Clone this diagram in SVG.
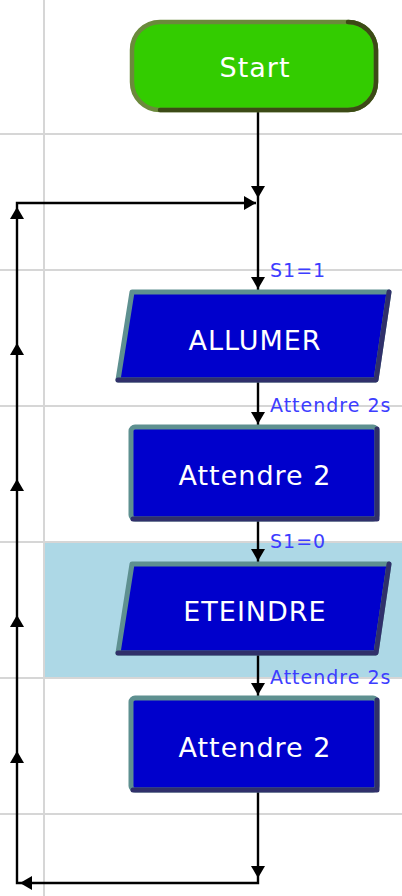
<svg xmlns="http://www.w3.org/2000/svg" xmlns:xlink="http://www.w3.org/1999/xlink" width="402" height="896" viewBox="0 0 402 896">
<style>
.grid{stroke:#d6d6d6;stroke-width:2;fill:none}
.wire{stroke:#000;stroke-width:2.4;fill:none}
.ah{fill:#000}
.blue{fill:#0000cc;stroke:#5e9090;stroke-width:5;stroke-linejoin:round}
.shade{fill:none;stroke:#30306a;stroke-width:5;stroke-linecap:round;stroke-linejoin:round}
.ntext{font-family:"DejaVu Sans","Liberation Sans",sans-serif;font-size:27px;fill:#fff;text-anchor:middle;letter-spacing:1px}
.lbl{font-family:"DejaVu Sans","Liberation Sans",sans-serif;font-size:19px;fill:#3d3dff;letter-spacing:1px}
</style>
<defs>
<path id="down" d="M-7,-12 L7,-12 L0,0 Z"/>
</defs>
<rect width="402" height="896" fill="#fff"/>
<rect x="45" y="543" width="357" height="135" fill="#add8e6"/>
<g id="grid" class="grid">
<line x1="44" y1="0" x2="44" y2="896"/>
<line x1="0" y1="134" x2="402" y2="134"/>
<line x1="0" y1="270" x2="402" y2="270"/>
<line x1="0" y1="406" x2="402" y2="406"/>
<line x1="0" y1="542" x2="402" y2="542"/>
<line x1="0" y1="678" x2="402" y2="678"/>
<line x1="0" y1="814" x2="402" y2="814"/>
</g>
<g id="connectors">
<path class="wire" d="M258,112 V290"/>
<path class="wire" d="M258,382 V425"/>
<path class="wire" d="M258,520 V562"/>
<path class="wire" d="M258,655 V696"/>
<path class="wire" d="M258,792 V883 H17 V203 H256"/>
<use href="#down" class="ah" x="258" y="198"/>
<use href="#down" class="ah" transform="translate(256,203) rotate(-90)"/>
<use href="#down" class="ah" x="258" y="289"/>
<use href="#down" class="ah" x="258" y="424"/>
<use href="#down" class="ah" x="258" y="561"/>
<use href="#down" class="ah" x="258" y="695"/>
<use href="#down" class="ah" x="258" y="878"/>
<use href="#down" class="ah" transform="translate(20,883) rotate(90)"/>
<use href="#down" class="ah" transform="translate(17,207) rotate(180)"/>
<use href="#down" class="ah" transform="translate(17,343) rotate(180)"/>
<use href="#down" class="ah" transform="translate(17,479) rotate(180)"/>
<use href="#down" class="ah" transform="translate(17,615) rotate(180)"/>
<use href="#down" class="ah" transform="translate(17,751) rotate(180)"/>
<text class="lbl" x="270" y="277">S1=1</text>
<text class="lbl" x="270" y="412">Attendre 2s</text>
<text class="lbl" x="270" y="548">S1=0</text>
<text class="lbl" x="270" y="684">Attendre 2s</text>
</g>
<g id="start">
<rect x="132" y="22" width="244" height="88" rx="28" fill="#33cc00" stroke="#6b8a3c" stroke-width="4.5"/>
<path d="M348,22 A28,28 0 0 1 376,50 V82 A28,28 0 0 1 348,110 H160" fill="none" stroke="#3c4a16" stroke-width="4.5" stroke-linecap="round"/>
<text class="ntext" x="255" y="77">Start</text>
</g>
<g id="allumer">
<path class="blue" d="M132,292 L389,292 L376,380 L118,380 Z"/>
<path class="shade" d="M389,292 L376,380 L118,380"/>
<text class="ntext" x="255" y="350">ALLUMER</text>
</g>
<g id="attendre1">
<rect class="blue" x="131" y="427" width="246" height="92" rx="4"/>
<path class="shade" d="M377,429 V519 H133"/>
<text class="ntext" x="255" y="485">Attendre 2</text>
</g>
<g id="eteindre">
<path class="blue" d="M132,564 L389,564 L376,653 L118,653 Z"/>
<path class="shade" d="M389,564 L376,653 L118,653"/>
<text class="ntext" x="255" y="621">ETEINDRE</text>
</g>
<g id="attendre2">
<rect class="blue" x="131" y="698" width="246" height="92" rx="4"/>
<path class="shade" d="M377,700 V790 H133"/>
<text class="ntext" x="255" y="757">Attendre 2</text>
</g>
</svg>
